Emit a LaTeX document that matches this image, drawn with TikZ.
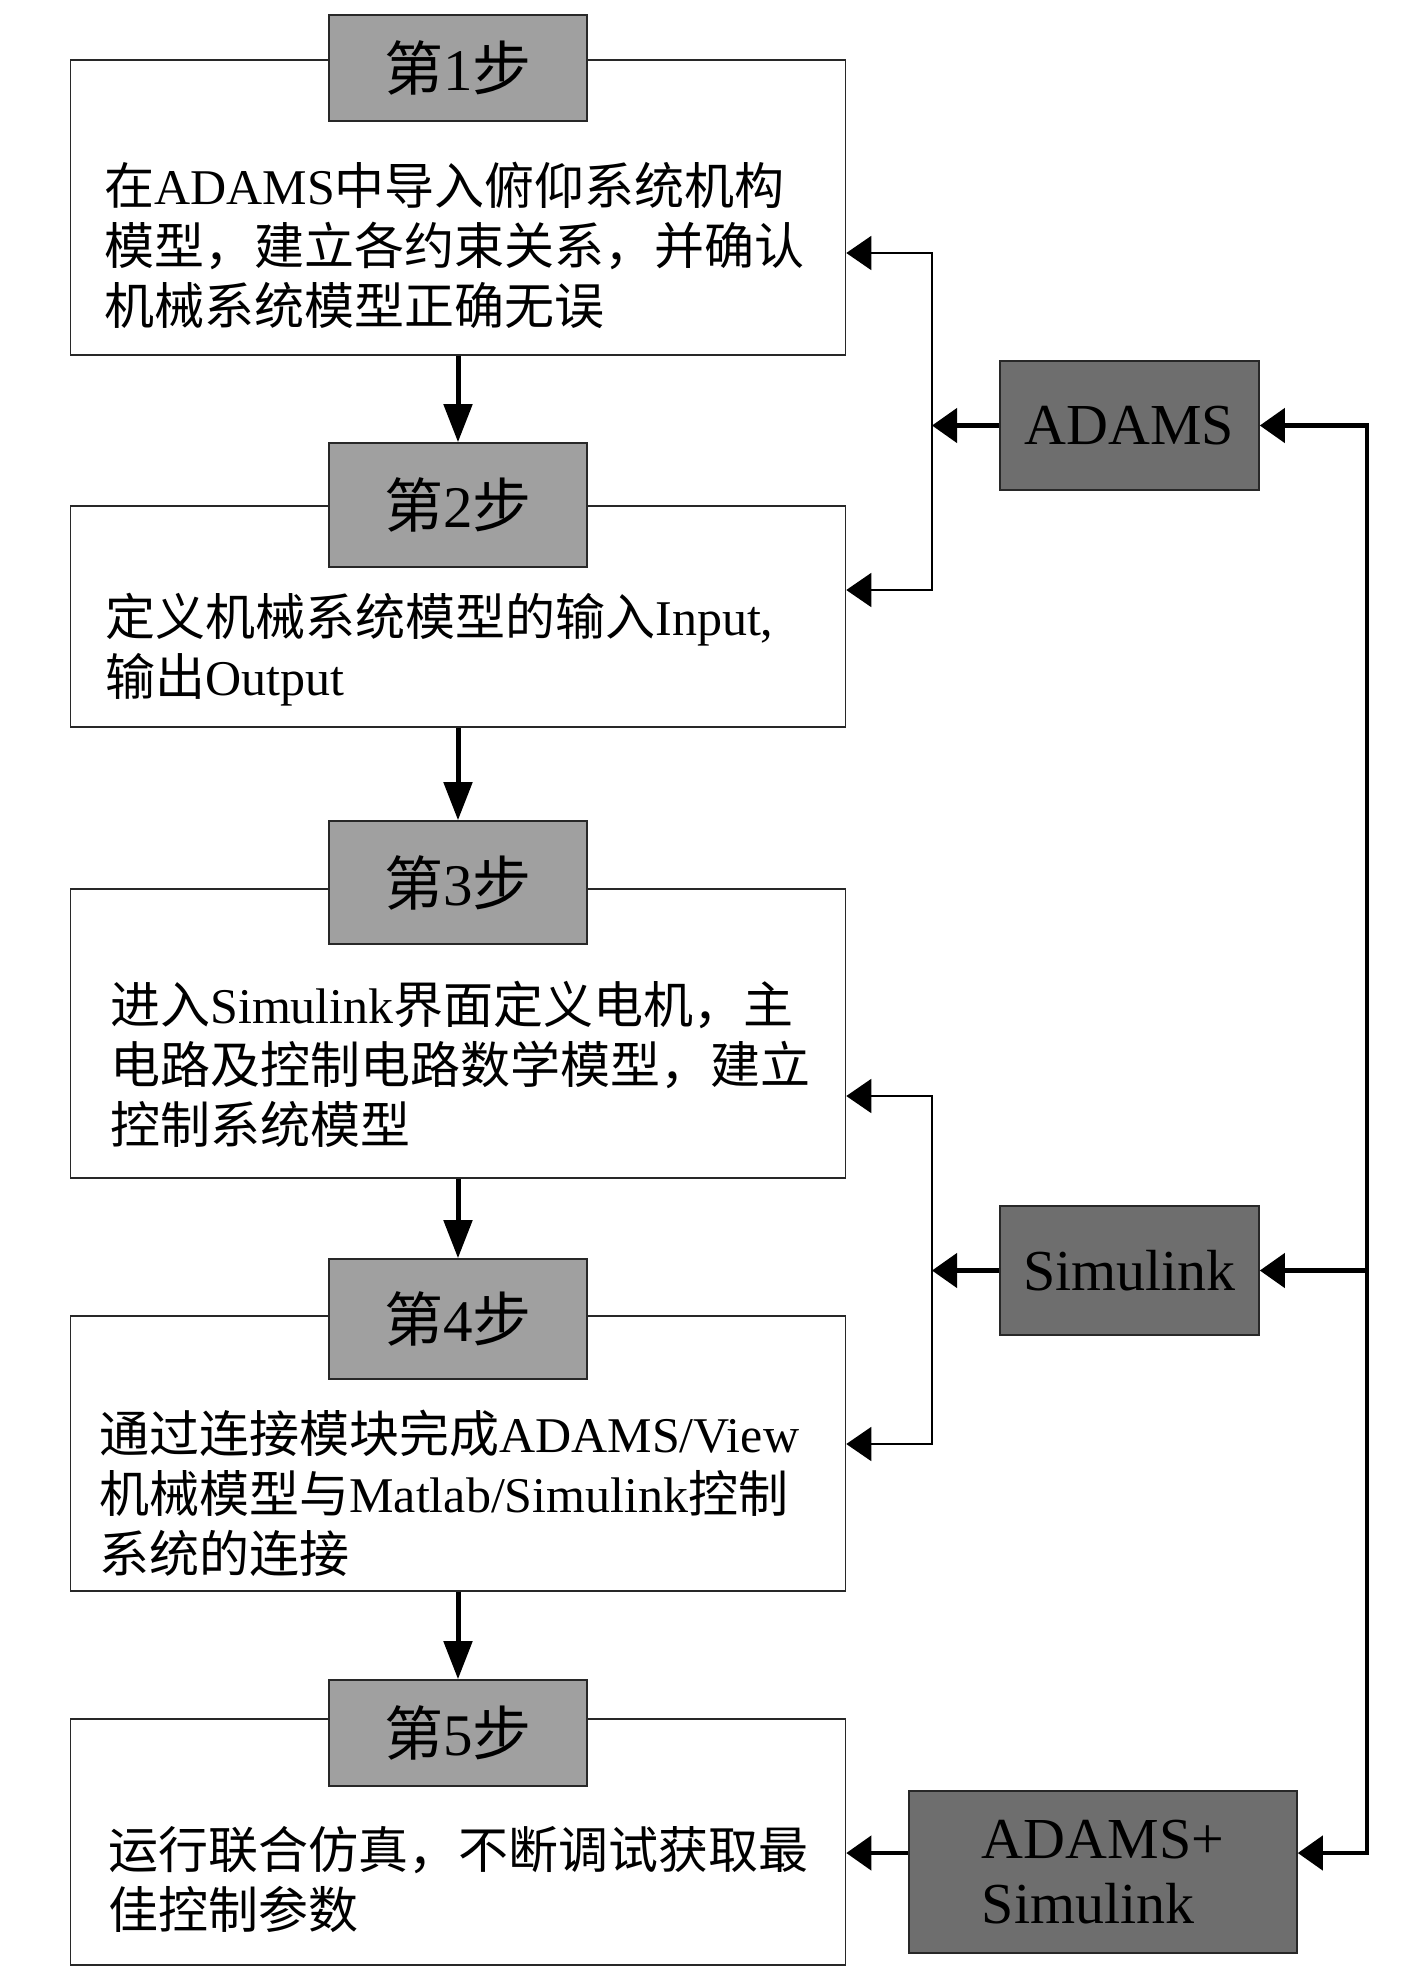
\documentclass[tikz,border=0pt]{standalone}
\usepackage{fontspec}
\setmainfont{Liberation Serif}
\newfontfamily\cjk{Noto Sans CJK SC}
\newcommand{\zh}[1]{{\cjk #1}}
\usetikzlibrary{arrows.meta}
\definecolor{stepgray}{RGB}{160,160,160}
\definecolor{toolgray}{RGB}{110,110,110}
\definecolor{edgegray}{RGB}{40,40,40}
\tikzset{
	mainbox/.style={draw=edgegray, line width=0.8pt, fill=white, minimum width=387.5pt, inner sep=0pt},
	steplabel/.style={draw=edgegray, line width=0.8pt, fill=stepgray, minimum width=129pt, inner sep=0pt, font=\fontsize{29.5pt}{33pt}\selectfont},
	toolbox/.style={draw=edgegray, line width=0.8pt, fill=toolgray, inner sep=0pt, font=\fontsize{29pt}{32.5pt}\selectfont},
	bodytext/.style={anchor=west, align=left, inner sep=0pt, font=\fontsize{25pt}{30pt}\selectfont},
	flow/.style={line width=2.5pt, -{Triangle[length=19pt, width=14pt]}},
	feed/.style={line width=0.8pt},
	bus/.style={line width=2.2pt},
}

\begin{document}
\begin{tikzpicture}[x=0.5pt, y=-0.5pt, >={Triangle[length=12.5pt, width=17pt]}]
	\useasboundingbox (0,0) rectangle (1417,1978);
	\node[mainbox, minimum height=147.5pt] (b1) at (458,207.5) {};
	\node[mainbox, minimum height=110.5pt] (b2) at (458,616.5) {};
	\node[mainbox, minimum height=144.5pt] (b3) at (458,1033.5) {};
	\node[mainbox, minimum height=137.5pt] (b4) at (458,1453.5) {};
	\node[mainbox, minimum height=123pt] (b5) at (458,1842) {};
	\node[steplabel, minimum height=53pt] (s1) at (458,68) {\zh{第}1\zh{步}};
	\node[steplabel, minimum height=62pt] (s2) at (458,505) {\zh{第}2\zh{步}};
	\node[steplabel, minimum height=61.5pt] (s3) at (458,882.5) {\zh{第}3\zh{步}};
	\node[steplabel, minimum height=60pt] (s4) at (458,1319) {\zh{第}4\zh{步}};
	\node[steplabel, minimum height=53pt] (s5) at (458,1733) {\zh{第}5\zh{步}};
	\node[bodytext] (t1) at (104,245) {\zh{在}ADAMS\zh{中导入俯仰系统机构}\\\zh{模型，建立各约束关系，并确认}\\\zh{机械系统模型正确无误}};
	\node[bodytext] (t2) at (105,650) {\zh{定义机械系统模型的输入}Input,\\\zh{输出}Output};
	\node[bodytext] (t3) at (110,1064) {\zh{进入}Simulink\zh{界面定义电机，主}\\\zh{电路及控制电路数学模型，建立}\\\zh{控制系统模型}};
	\node[bodytext] (t4) at (99,1493) {\zh{通过连接模块完成}ADAMS/View\\\zh{机械模型与}Matlab/Simulink\zh{控制}\\\zh{系统的连接}};
	\node[bodytext] (t5) at (108,1879) {\zh{运行联合仿真，不断调试获取最}\\\zh{佳控制参数}};
	% tools
	\node[toolbox, minimum width=129.5pt, minimum height=64.5pt] (adams) at (1129.5,425.5) {ADAMS};
	\node[toolbox, minimum width=129.5pt, minimum height=64.5pt] (simu) at (1129.5,1270.5) {Simulink};
	\node[toolbox, minimum width=194pt, minimum height=81pt, align=left] (both) at (1103,1872) {ADAMS+\\Simulink};
	% connectors
	\draw[flow] (b1.south) -- (s2.north);
	\draw[flow] (b2.south) -- (s3.north);
	\draw[flow] (b3.south) -- (s4.north);
	\draw[flow] (b4.south) -- (s5.north);
	\coordinate (fa1) at (932,253);
	\coordinate (fa2) at (932,590);
	\coordinate (fs1) at (932,1096);
	\coordinate (fs2) at (932,1444);
	\draw[feed, <->] (b1.east |- fa1) -- (fa1) -- (fa2) -- (b2.east |- fa2);
	\draw[feed, <->] (b3.east |- fs1) -- (fs1) -- (fs2) -- (b4.east |- fs2);
	\draw[bus, ->] (adams.west) -- (adams.west -| fa1);
	\draw[bus, ->] (simu.west) -- (simu.west -| fs1);
	\coordinate (r1) at (1367,425.5);
	\coordinate (r2) at (1367,1853);
	\draw[bus, <->] (adams.east) -- (r1) -- (r2) -- (both.east |- r2);
	\draw[bus, ->] (simu.east -| r1) -- (simu.east);
	\draw[bus, ->] (both.west |- r2) -- (b5.east |- r2);
\end{tikzpicture}
\end{document}
